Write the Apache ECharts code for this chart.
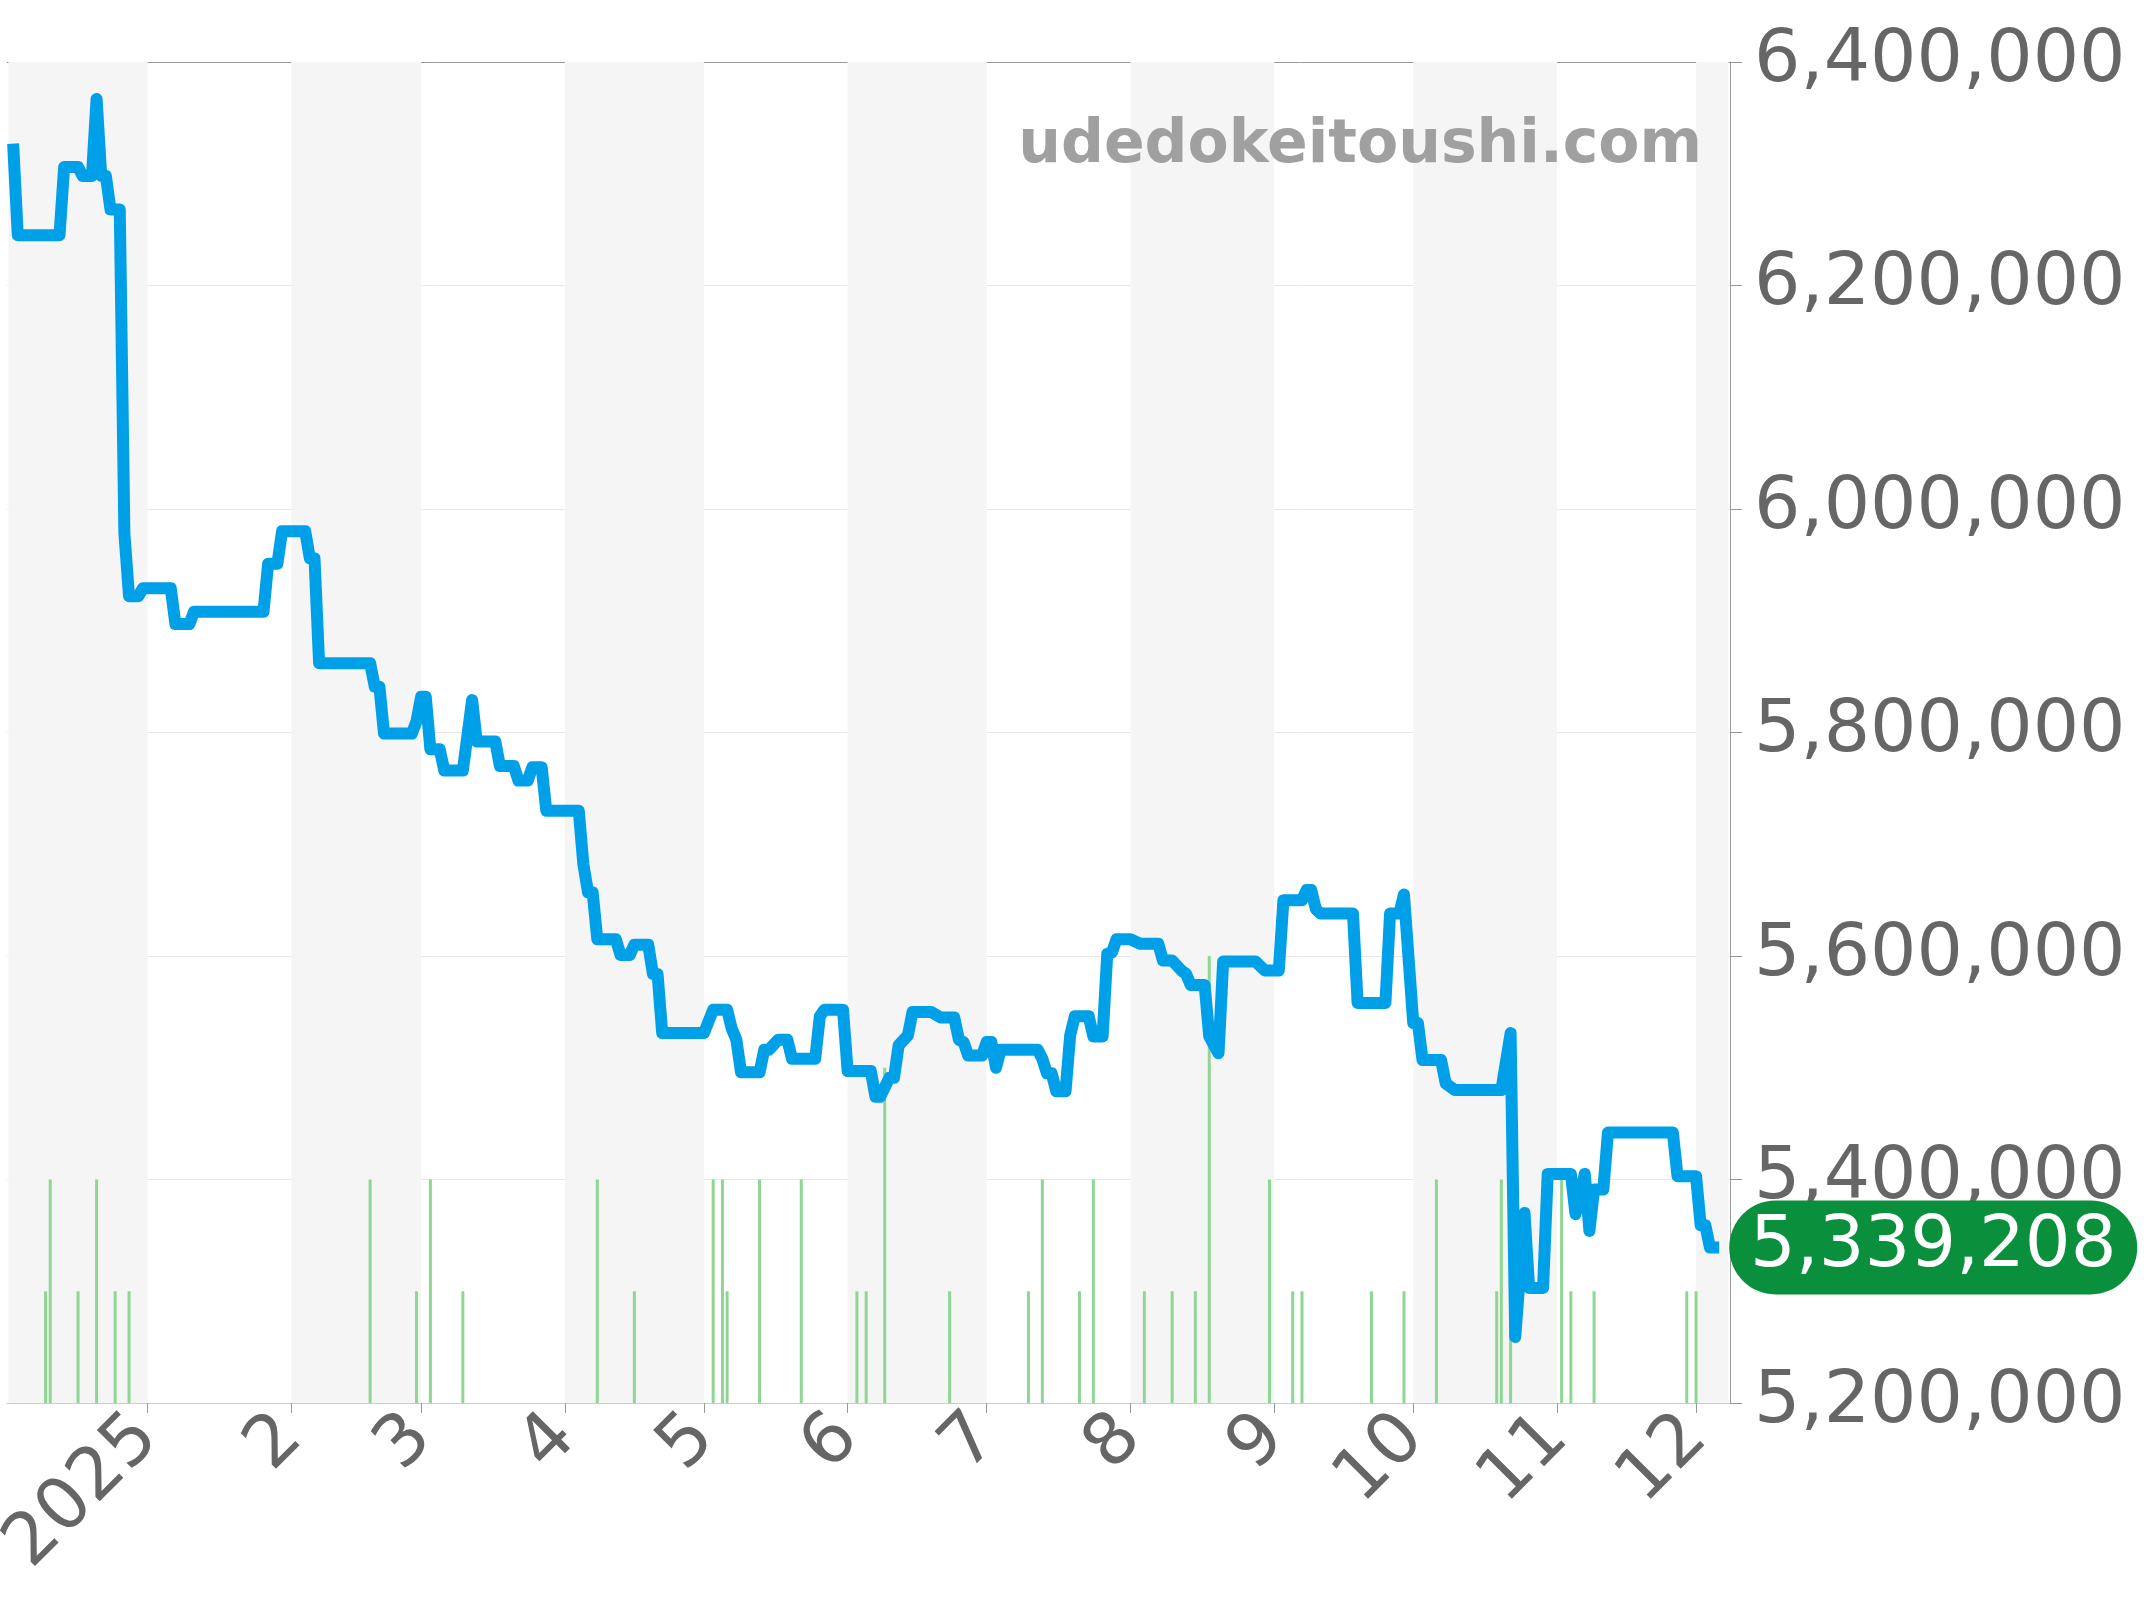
<!DOCTYPE html>
<html>
<head>
<meta charset="utf-8">
<script src="https://cdn.jsdelivr.net/npm/echarts@6/dist/echarts.min.js"></script>
<style>
html,body{margin:0;padding:0;background:#fff;}
#chart{width:2144px;height:1600px;}
</style>
</head>
<body>
<div id="chart"></div>
<script>
// price line (date, yen)
var priceDates = ['2024-12-03','2024-12-04','2024-12-13','2024-12-14','2024-12-17','2024-12-18','2024-12-20','2024-12-21','2024-12-22','2024-12-23','2024-12-24','2024-12-26','2024-12-27','2024-12-28','2024-12-30','2024-12-31',
 '2025-01-06','2025-01-07','2025-01-10','2025-01-11','2025-01-26','2025-01-27','2025-01-29','2025-01-30','2025-02-04','2025-02-05','2025-02-06','2025-02-07','2025-02-18','2025-02-19','2025-02-20','2025-02-21','2025-02-27','2025-02-28',
 '2025-03-01','2025-03-02','2025-03-03','2025-03-05','2025-03-06','2025-03-10','2025-03-12','2025-03-13','2025-03-17','2025-03-18','2025-03-21','2025-03-22','2025-03-24','2025-03-25','2025-03-27','2025-03-28',
 '2025-04-04','2025-04-05','2025-04-06','2025-04-07','2025-04-08','2025-04-12','2025-04-13','2025-04-15','2025-04-16','2025-04-19','2025-04-20','2025-04-21','2025-04-22',
 '2025-05-01','2025-05-03','2025-05-06','2025-05-07','2025-05-08','2025-05-09','2025-05-13','2025-05-14','2025-05-15','2025-05-17','2025-05-19','2025-05-20','2025-05-25','2025-05-26','2025-05-27','2025-05-31',
 '2025-06-01','2025-06-06','2025-06-07','2025-06-08','2025-06-10','2025-06-11','2025-06-12','2025-06-14','2025-06-15','2025-06-19','2025-06-21','2025-06-24','2025-06-25','2025-06-26','2025-06-27','2025-06-30',
 '2025-07-01','2025-07-02','2025-07-03','2025-07-04','2025-07-12','2025-07-13','2025-07-14','2025-07-15','2025-07-16','2025-07-18','2025-07-19','2025-07-20','2025-07-23','2025-07-24','2025-07-26','2025-07-27','2025-07-28','2025-07-29',
 '2025-08-01','2025-08-03','2025-08-07','2025-08-08','2025-08-10','2025-08-12','2025-08-13','2025-08-14','2025-08-17','2025-08-18','2025-08-20','2025-08-21','2025-08-28','2025-08-30',
 '2025-09-02','2025-09-03','2025-09-07','2025-09-08','2025-09-09','2025-09-10','2025-09-11','2025-09-18','2025-09-19','2025-09-25','2025-09-26','2025-09-28','2025-09-29',
 '2025-10-01','2025-10-02','2025-10-03','2025-10-07','2025-10-08','2025-10-10','2025-10-20','2025-10-22','2025-10-23','2025-10-25','2025-10-26','2025-10-29','2025-10-30',
 '2025-11-04','2025-11-05','2025-11-07','2025-11-08','2025-11-09','2025-11-11','2025-11-12','2025-11-26','2025-11-27','2025-12-01','2025-12-02','2025-12-03','2025-12-04','2025-12-06'];
var priceValues = [6327000,6245000,6245000,6306000,6306000,6298000,6298000,6367000,6298000,6298000,6268000,6268000,5978000,5922000,5922000,5929000,
 5929000,5897000,5897000,5908000,5908000,5951000,5951000,5980000,5980000,5956000,5956000,5862000,5862000,5841000,5841000,5799000,5799000,5810000,
 5832000,5832000,5785000,5785000,5766000,5766000,5829000,5792000,5792000,5770000,5770000,5757000,5757000,5769000,5769000,5730000,
 5730000,5682000,5657000,5657000,5615000,5615000,5601000,5601000,5610000,5610000,5584000,5584000,5531000,
 5531000,5552000,5552000,5535000,5525000,5496000,5496000,5516000,5516000,5525000,5525000,5508000,5508000,5546000,5552000,5552000,
 5497000,5497000,5474000,5474000,5491000,5491000,5520000,5529000,5550000,5550000,5545000,5545000,5525000,5523000,5511000,5511000,
 5523000,5523000,5500000,5516000,5516000,5508000,5495000,5495000,5479000,5479000,5529000,5546000,5546000,5528000,5528000,5602000,5603000,5615000,
 5615000,5611000,5611000,5596000,5596000,5587000,5584000,5574000,5574000,5528000,5513000,5595000,5595000,5587000,
 5587000,5650000,5650000,5659000,5659000,5642000,5638000,5638000,5558000,5558000,5638000,5638000,5655000,
 5540000,5540000,5507000,5507000,5486000,5480000,5480000,5531000,5259000,5370000,5303000,5303000,5405000,
 5405000,5369000,5405000,5354000,5391000,5391000,5442000,5442000,5403000,5403000,5359000,5359000,5339208,5339208];

// trading volume ticks at the bottom
var volDates = ['2024-12-10','2024-12-11','2024-12-17','2024-12-21','2024-12-25','2024-12-28','2025-02-18','2025-02-28','2025-03-03','2025-03-10',
 '2025-04-08','2025-04-16','2025-05-03','2025-05-05','2025-05-06','2025-05-13','2025-05-22','2025-06-03','2025-06-05','2025-06-09','2025-06-23',
 '2025-07-10','2025-07-13','2025-07-21','2025-07-24','2025-08-04','2025-08-10','2025-08-15','2025-08-18','2025-08-31','2025-09-05','2025-09-07',
 '2025-09-22','2025-09-29','2025-10-06','2025-10-19','2025-10-20','2025-10-22','2025-11-02','2025-11-04','2025-11-09','2025-11-29','2025-12-01'];
var volValues = [1,2,1,2,1,1,2,1,2,1, 2,1,2,2,1,2,2,1,1,3,1, 1,2,1,2,1,1,1,4,2,1,1, 1,1,2,1,2,1,2,1,1,1,1];

// grey month bands
var bandStarts = ['2024-12-02','2025-02-01','2025-04-01','2025-06-01','2025-08-01','2025-10-01','2025-12-01'];
var bandEnds   = ['2025-01-01','2025-03-01','2025-05-01','2025-07-01','2025-09-01','2025-11-01','2025-12-08'];

var lastPrice = priceValues[priceValues.length - 1];

var chart = echarts.init(document.getElementById('chart'));
var priceData = priceDates.map(function(d, i){ return [d, priceValues[i]]; });
var volData = volDates.map(function(d, i){ return [d, volValues[i]]; });
var bands = bandStarts.map(function(s, i){ return [{xAxis: s}, {xAxis: bandEnds[i]}]; });

chart.setOption({
    animation: false,
    grid: {left: 7, right: 414, top: 62, bottom: 197, containLabel: false, outerBoundsMode: 'none'},
    graphic: [{
        type: 'text', right: 442, top: 116, z: 10,
        style: {text: 'udedokeitoushi.com', fill: '#a0a0a0', font: 'bold 60px "DejaVu Sans"'}
    }],
    xAxis: [{
        type: 'time',
        min: '2024-12-02', max: '2025-12-08',
        splitNumber: 12,
        axisLine: {show: true, lineStyle: {color: '#cccccc'}},
        axisTick: {show: true, length: 10, lineStyle: {color: '#999'}},
        splitLine: {show: false},
        axisLabel: {
            rotate: 45, fontSize: 72, color: '#666', fontFamily: 'DejaVu Sans', margin: 24,
            formatter: {year: '{yyyy}', month: '{M}', day: ''}
        }
    }, {
        type: 'time', position: 'top',
        min: '2024-12-02', max: '2025-12-08',
        axisLine: {show: true, lineStyle: {color: '#999'}},
        axisTick: {show: false}, axisLabel: {show: false}, splitLine: {show: false}
    }],
    yAxis: [{
        type: 'value', position: 'right',
        min: 5200000, max: 6400000, interval: 200000,
        axisLine: {show: true, lineStyle: {color: '#999'}},
        axisTick: {show: true, length: 12, lineStyle: {color: '#999'}},
        splitLine: {lineStyle: {color: '#e8e8e8'}},
        axisLabel: {
            fontSize: 73, color: '#666', fontFamily: 'DejaVu Sans', margin: 24,
            formatter: function(v){ return v.toLocaleString('en-US'); }
        }
    }, {
        type: 'value', min: 0, max: 12, show: false
    }],
    series: [{
        type: 'bar', xAxisIndex: 0, yAxisIndex: 1,
        data: volData, barWidth: 3,
        itemStyle: {color: '#8fd694'}, z: 2
    }, {
        type: 'line', xAxisIndex: 0, yAxisIndex: 0,
        data: priceData, symbol: 'none',
        lineStyle: {color: '#00a0e9', width: 12, join: 'round'},
        z: 3,
        markArea: {silent: true, itemStyle: {color: '#f5f5f5'}, data: bands},
        markPoint: {
            symbol: 'path://M46,0 H360 A46,46 0 0 1 360,92 H46 A46,46 0 0 1 46,0 Z',
            symbolKeepAspect: false,
            symbolSize: [408, 94], symbolOffset: [214, 0],
            itemStyle: {color: '#0a8f3c'},
            label: {color: '#fff', fontSize: 72, fontFamily: 'DejaVu Sans',
                formatter: function(){ return lastPrice.toLocaleString('en-US'); }},
            data: [{coord: [priceDates[priceDates.length - 1], lastPrice]}]
        }
    }]
});
</script>
</body>
</html>
